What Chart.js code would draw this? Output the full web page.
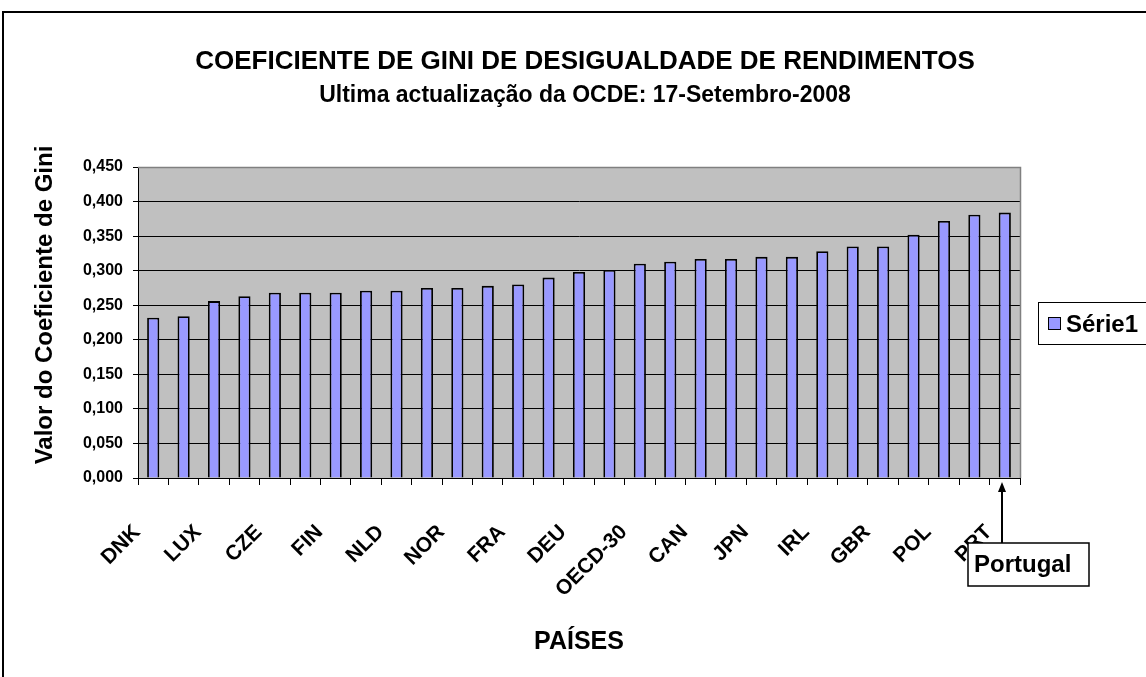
<!DOCTYPE html>
<html>
<head>
<meta charset="utf-8">
<script src="https://cdn.jsdelivr.net/npm/chart.js@4/dist/chart.umd.min.js"></script>
<style>
html,body{margin:0;padding:0;background:#fff;overflow:hidden}
#wrap{position:relative;width:1146px;height:677px}
</style>
</head>
<body>
<div id="wrap"><canvas id="c" width="1146" height="677"></canvas></div>
<script>
// ---- data ----
const categories = ['DNK','SWE','LUX','AUT','CZE','SVK','FIN','BEL','NLD','CHE','NOR','ISL','FRA','HUN','DEU','AUS','OECD-30','KOR','CAN','ESP','JPN','GRC','IRL','NZL','GBR','ITA','POL','USA','PRT'];
const giniValues = [0.232,0.234,0.256,0.263,0.268,0.268,0.268,0.271,0.271,0.275,0.275,0.278,0.280,0.290,0.298,0.301,0.310,0.313,0.317,0.317,0.320,0.320,0.328,0.335,0.335,0.352,0.372,0.381,0.384];
const yMin = 0, yMax = 0.45, yStep = 0.05;
const chartTitle = 'COEFICIENTE DE GINI DE DESIGUALDADE DE RENDIMENTOS';
const chartSubtitle = 'Ultima actualização da OCDE: 17-Setembro-2008';
const yAxisTitle = 'Valor do Coeficiente de Gini';
const xAxisTitle = 'PAÍSES';
const seriesName = 'Série1';
const highlightCategory = 'PRT';
const highlightText = 'Portugal';

const FONT = '"Liberation Sans", Arial, Helvetica, sans-serif';
Chart.defaults.font.family = FONT;
Chart.defaults.color = '#000';

const decor = {
  id: 'decor',
  beforeDraw(chart) {
    const {ctx, chartArea: a} = chart;
    ctx.save();
    ctx.fillStyle = '#fff';
    ctx.fillRect(0, 0, chart.width, chart.height);
    ctx.fillStyle = '#C0C0C0';
    ctx.fillRect(a.left, a.top, a.right - a.left, a.bottom - a.top);
    ctx.restore();
  },
  afterDraw(chart) {
    const {ctx, chartArea: a} = chart;
    ctx.save();
    // plot area border (top, right)
    ctx.strokeStyle = '#808080';
    ctx.lineWidth = 1.5;
    ctx.beginPath();
    ctx.moveTo(a.left, a.top + 0.5);
    ctx.lineTo(a.right + 0.5, a.top + 0.5);
    ctx.lineTo(a.right + 0.5, a.bottom);
    ctx.stroke();

    // outer frame (top & left visible)
    ctx.strokeStyle = '#000';
    ctx.lineWidth = 2;
    ctx.beginPath();
    ctx.moveTo(1150, 12);
    ctx.lineTo(3, 12);
    ctx.lineTo(3, 680);
    ctx.stroke();

    // y axis title
    ctx.fillStyle = '#000';
    ctx.font = 'bold 24px ' + FONT;
    ctx.textAlign = 'center';
    ctx.textBaseline = 'middle';
    ctx.translate(45, 305);
    ctx.rotate(-Math.PI / 2);
    ctx.fillText(yAxisTitle, 0, 0);
    ctx.setTransform(1, 0, 0, 1, 0, 0);

    // legend
    ctx.lineWidth = 1;
    ctx.strokeStyle = '#000';
    ctx.fillStyle = '#fff';
    ctx.fillRect(1038.5, 302.5, 140, 42);
    ctx.strokeRect(1038.5, 302.5, 140, 42);
    ctx.fillStyle = '#9999FF';
    ctx.fillRect(1048.5, 317.5, 12, 12);
    ctx.strokeRect(1048.5, 317.5, 12, 12);
    ctx.fillStyle = '#000';
    ctx.font = 'bold 24px ' + FONT;
    ctx.textAlign = 'left';
    ctx.textBaseline = 'alphabetic';
    ctx.fillText(seriesName, 1066, 332);

    // Portugal annotation
    const xs = chart.scales.x;
    const px = Math.round(xs.getPixelForValue(categories.indexOf(highlightCategory))) - 3;
    ctx.strokeStyle = '#000';
    ctx.fillStyle = '#000';
    ctx.lineWidth = 2;
    ctx.beginPath();
    ctx.moveTo(px, 490);
    ctx.lineTo(px, 543);
    ctx.stroke();
    ctx.beginPath();
    ctx.moveTo(px, 482);
    ctx.lineTo(px - 4, 492);
    ctx.lineTo(px + 4, 492);
    ctx.closePath();
    ctx.fill();
    ctx.fillStyle = '#fff';
    ctx.fillRect(px - 34, 543, 121, 43);
    ctx.lineWidth = 1.5;
    ctx.strokeRect(px - 34, 543, 121, 43);
    ctx.fillStyle = '#000';
    ctx.font = 'bold 24px ' + FONT;
    ctx.textAlign = 'left';
    ctx.fillText(highlightText, px - 28, 572);
    ctx.restore();
  }
};

new Chart(document.getElementById('c'), {
  type: 'bar',
  data: {
    labels: categories,
    datasets: [{
      label: seriesName,
      data: giniValues,
      backgroundColor: '#9999FF',
      borderColor: '#000',
      borderWidth: 1.8,
      categoryPercentage: 1,
      barPercentage: 0.4
    }]
  },
  options: {
    responsive: false,
    animation: false,
    devicePixelRatio: 1,
    layout: {padding: {top: 14, left: 24, right: 0, bottom: 0}},
    plugins: {
      legend: {display: false},
      tooltip: {enabled: false},
      title: {
        display: true, text: chartTitle, color: '#000',
        font: {size: 26, weight: 'bold'},
        padding: {top: 32.4, bottom: 0}
      },
      subtitle: {
        display: true, text: chartSubtitle, color: '#000',
        font: {size: 23, weight: 'bold'},
        padding: {top: 4.6, bottom: 57.2}
      }
    },
    scales: {
      x: {
        grid: {display: true, drawOnChartArea: false, drawTicks: true, tickLength: 7, color: '#000', offset: true},
        border: {display: true, color: '#000', width: 1},
        ticks: {
          autoSkip: false, minRotation: 45, maxRotation: 45,
          padding: 35, labelOffset: -16, color: '#000',
          font: {size: 21, weight: 'bold'},
          callback: function(v, i) { return i % 2 === 0 ? this.getLabelForValue(v) : ''; }
        },
        title: {display: true, text: xAxisTitle, color: '#000', font: {size: 25, weight: 'bold'}, padding: {top: 0, bottom: 20}},
        afterFit: s => { s.height = 199; }
      },
      y: {
        min: yMin, max: yMax,
        grid: {color: '#000', lineWidth: 1, drawTicks: true, tickLength: 5, tickColor: '#000'},
        border: {display: true, color: '#000', width: 1},
        ticks: {
          stepSize: yStep, padding: 10, color: '#000',
          font: {size: 16, weight: 'bold'},
          callback: v => Number(v).toFixed(3).replace('.', ',')
        },
        afterFit: s => { s.width = 114; }
      },
      spacer: {
        type: 'linear', position: 'right', axis: 'y',
        grid: {display: false}, border: {display: false},
        ticks: {display: false},
        afterFit: s => { s.width = 126; }
      }
    }
  },
  plugins: [decor]
});
</script>
</body>
</html>
